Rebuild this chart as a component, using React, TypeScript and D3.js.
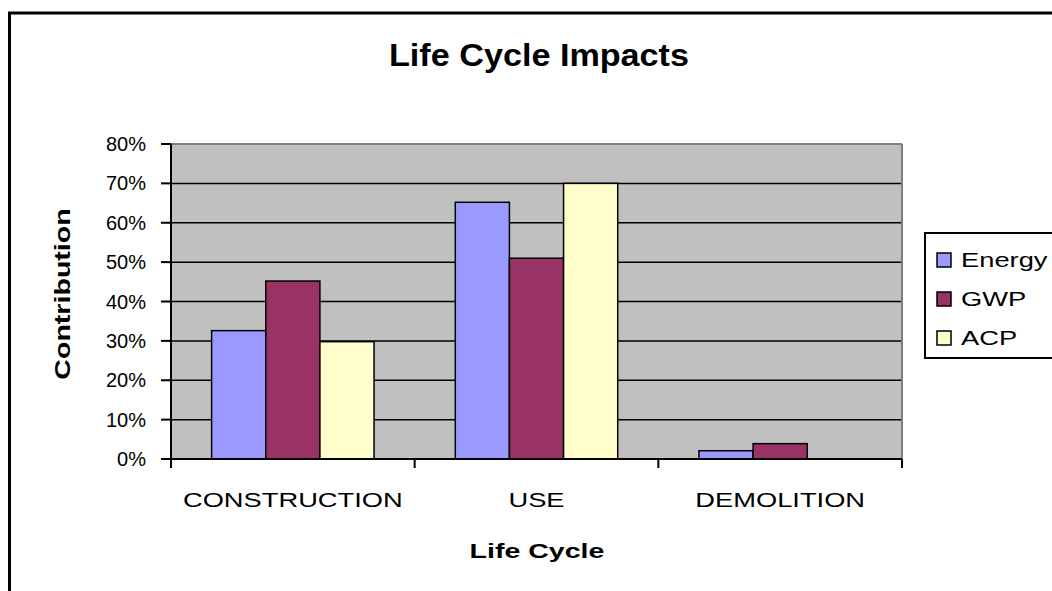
import React from "react";
import * as d3 from "d3";

const categories = ["CONSTRUCTION", "USE", "DEMOLITION"];
const seriesNames = ["Energy", "GWP", "ACP"];
const energyValues = [32.6, 65.2, 2.1];
const gwpValues = [45.2, 51.0, 3.9];
const acpValues = [29.8, 70.0, 0];
const seriesColors = ["#9999FF", "#993366", "#FFFFCC"];
const yTicks = [0, 10, 20, 30, 40, 50, 60, 70, 80];

const W = 1052;
const H = 591;
const plot = { left: 171, right: 902, top: 144, bottom: 459 };
const FONT = "Arial, 'Liberation Sans', Helvetica, sans-serif";
const STRETCH = 1.3;

export default function App() {
  const seriesValues = [energyValues, gwpValues, acpValues];
  const x = d3.scaleBand<string>().domain(categories).range([plot.left, plot.right]).paddingInner(0).paddingOuter(0);
  const xs = d3.scaleBand<string>().domain(seriesNames).range([0, x.bandwidth()]).paddingInner(0).paddingOuter(0.75);
  const y = d3.scaleLinear().domain([0, 80]).range([plot.bottom, plot.top]);
  const boundaries = [...categories.map((c) => x(c) as number), plot.right];

  return (
    <svg width={W} height={H} style={{ position: "absolute", left: 0, top: 0, background: "#fff" }}>
      <rect x={9.5} y={13} width={W + 20} height={H + 20} fill="#fff" stroke="#000" strokeWidth={3} />
      <text x={539} y={66} textAnchor="middle" fontFamily={FONT} fontWeight="bold" fontSize={31} textLength={300} lengthAdjust="spacingAndGlyphs">
        Life Cycle Impacts
      </text>
      <rect x={plot.left} y={plot.top} width={plot.right - plot.left} height={plot.bottom - plot.top} fill="#C0C0C0" />
      {yTicks.filter((t) => t > 0 && t < 80).map((t) => (
        <line key={t} x1={plot.left} x2={plot.right} y1={y(t)} y2={y(t)} stroke="#000" strokeWidth={1.5} />
      ))}
      <line x1={plot.left} x2={plot.right} y1={plot.top} y2={plot.top} stroke="#808080" strokeWidth={2} />
      <line x1={plot.right} x2={plot.right} y1={plot.top} y2={plot.bottom} stroke="#808080" strokeWidth={2} />
      {categories.map((c, ci) =>
        seriesNames.map((s, si) => {
          const v = seriesValues[si][ci];
          if (v <= 0) return null;
          return (
            <rect
              key={c + s}
              x={(x(c) as number) + (xs(s) as number)}
              y={y(v)}
              width={xs.bandwidth()}
              height={y(0) - y(v)}
              fill={seriesColors[si]}
              stroke="#000"
              strokeWidth={1.5}
            />
          );
        })
      )}
      <line x1={plot.left} x2={plot.left} y1={plot.top} y2={plot.bottom + 8} stroke="#000" strokeWidth={2} />
      <line x1={plot.left - 10} x2={plot.right} y1={plot.bottom} y2={plot.bottom} stroke="#000" strokeWidth={2} />
      {yTicks.map((t) => (
        <g key={t}>
          <line x1={plot.left - 10} x2={plot.left} y1={y(t)} y2={y(t)} stroke="#000" strokeWidth={2} />
          <text x={146} y={y(t) + 7} textAnchor="end" fontFamily={FONT} fontSize={20}>
            {t}%
          </text>
        </g>
      ))}
      {boundaries.map((b, i) => (
        <line key={i} x1={b} x2={b} y1={plot.bottom} y2={plot.bottom + 9} stroke="#000" strokeWidth={2} />
      ))}
      {categories.map((c) => (
        <text
          key={c}
          transform={`translate(${(x(c) as number) + x.bandwidth() / 2},507) scale(${STRETCH},1)`}
          textAnchor="middle"
          fontFamily={FONT}
          fontSize={21}
        >
          {c}
        </text>
      ))}
      <text transform={`translate(537,558) scale(1.36,1)`} textAnchor="middle" fontFamily={FONT} fontWeight="bold" fontSize={21}>
        Life Cycle
      </text>
      <text transform={`translate(70,294) rotate(-90) scale(${STRETCH},1)`} textAnchor="middle" fontFamily={FONT} fontWeight="bold" fontSize={22}>
        Contribution
      </text>
      <rect x={925} y={233} width={200} height={125} fill="#fff" stroke="#000" strokeWidth={2} />
      {seriesNames.map((s, i) => {
        const cy = 260 + i * 39;
        return (
          <g key={s}>
            <rect x={937} y={cy - 7} width={14} height={14} fill={seriesColors[i]} stroke="#000" strokeWidth={1.5} />
            <text transform={`translate(961,${cy + 7}) scale(${STRETCH},1)`} fontFamily={FONT} fontSize={21}>
              {s}
            </text>
          </g>
        );
      })}
    </svg>
  );
}
